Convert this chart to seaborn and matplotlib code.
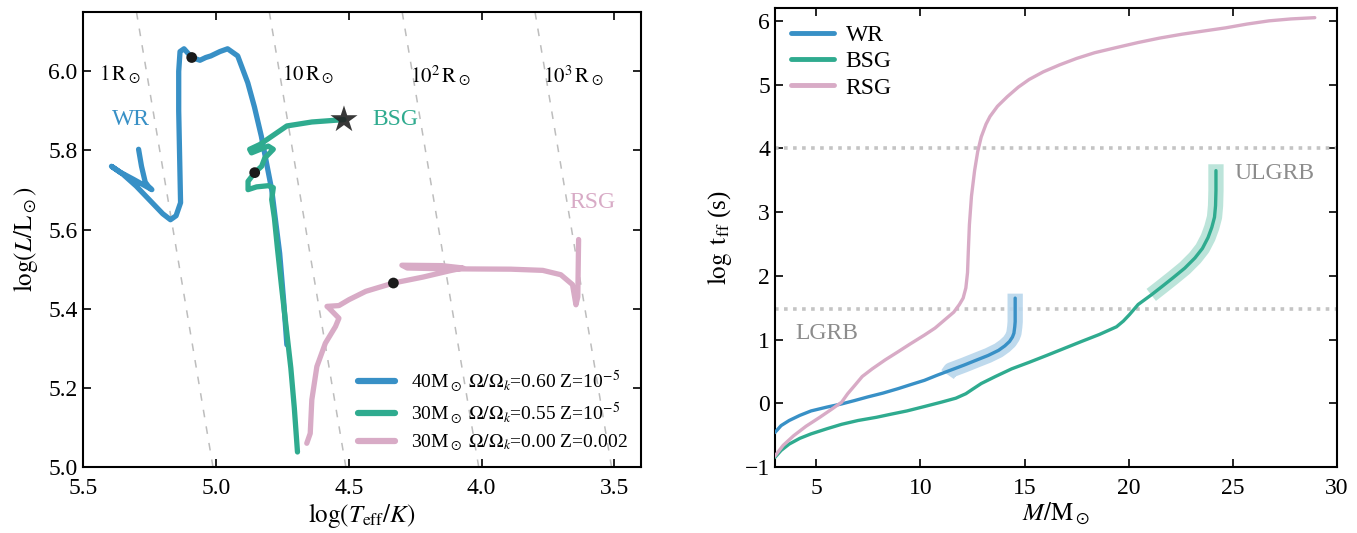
import numpy as np
import pandas as pd
import matplotlib
matplotlib.use("Agg")
import matplotlib.pyplot as plt
import seaborn as sns

# ---------------- data: HR diagram ----------------
wr_logT = [4.733, 4.745, 4.760, 4.775, 4.790, 4.810, 4.829, 4.855, 4.880, 4.918, 4.956, 4.985,
           5.019, 5.038, 5.060, 5.091, 5.120, 5.135, 5.140, 5.140, 5.137, 5.133, 5.150, 5.171,
           5.200, 5.250, 5.300, 5.350, 5.393, 5.360, 5.310, 5.270, 5.241, 5.255, 5.266, 5.280, 5.291]
wr_logL = [5.309, 5.420, 5.540, 5.620, 5.701, 5.770, 5.836, 5.910, 5.971, 6.039, 6.057, 6.050,
           6.039, 6.035, 6.028, 6.035, 6.057, 6.050, 6.000, 5.900, 5.800, 5.668, 5.635, 5.625,
           5.640, 5.675, 5.710, 5.740, 5.760, 5.745, 5.727, 5.712, 5.701, 5.710, 5.720, 5.760, 5.803]

bsg_logT = [4.693, 4.705, 4.718, 4.735, 4.752, 4.768, 4.780, 4.790, 4.784, 4.803, 4.847, 4.879,
            4.879, 4.854, 4.828, 4.816, 4.784, 4.803, 4.866, 4.873, 4.835, 4.733, 4.639, 4.518]
bsg_logL = [5.038, 5.150, 5.250, 5.350, 5.450, 5.550, 5.630, 5.676, 5.706, 5.711, 5.708, 5.701,
            5.722, 5.744, 5.760, 5.781, 5.803, 5.811, 5.794, 5.803, 5.815, 5.862, 5.872, 5.878]

rsg_logT = [4.658, 4.645, 4.639, 4.620, 4.588, 4.550, 4.537, 4.575, 4.582, 4.537, 4.499, 4.436,
            4.332, 4.221, 4.120, 4.070, 4.150, 4.300, 4.280, 4.150, 3.890, 3.770, 3.702, 3.658,
            3.645, 3.638, 3.635]
rsg_logL = [5.060, 5.085, 5.170, 5.254, 5.313, 5.355, 5.376, 5.402, 5.406, 5.408, 5.423, 5.444,
            5.465, 5.480, 5.496, 5.503, 5.509, 5.510, 5.503, 5.501, 5.500, 5.497, 5.486, 5.461,
            5.410, 5.430, 5.575]

dot_logT = [5.091, 4.854, 4.332]
dot_logL = [6.035, 5.744, 5.465]
star_logT = [4.518]
star_logL = [5.878]

# constant-radius lines: logT at logL=5.0 and logL=6.15
radius_labels = [r'$1\,\mathrm{R}_\odot$', r'$10\,\mathrm{R}_\odot$',
                 r'$10^2\,\mathrm{R}_\odot$', r'$10^3\,\mathrm{R}_\odot$']
radius_logT_bottom = [5.011, 4.511, 4.011, 3.511]
radius_logT_top = [5.299, 4.799, 4.299, 3.799]
radius_label_x = [5.44, 4.75, 4.27, 3.77]

legend_labels = [r'40M$_\odot$ $\Omega/\Omega_k$=0.60 Z=10$^{-5}$',
                 r'30M$_\odot$ $\Omega/\Omega_k$=0.55 Z=10$^{-5}$',
                 r'30M$_\odot$ $\Omega/\Omega_k$=0.00 Z=0.002']

# ---------------- data: free-fall time ----------------
rsg_M = [3.0, 3.4, 3.90, 4.5, 5.16, 5.7, 6.21, 6.5, 6.84, 7.2, 7.68, 8.3, 8.93, 9.5, 10.19,
         10.7, 11.24, 11.6, 11.87, 12.05, 12.18, 12.26, 12.30, 12.35, 12.45, 12.60, 12.75,
         12.92, 13.15, 13.34, 13.7, 14.17, 14.7, 15.22, 15.9, 16.69, 17.5, 18.37, 19.4, 20.46,
         21.5, 22.56, 23.6, 24.66, 25.7, 26.75, 27.8, 28.95]
rsg_t = [-0.83, -0.66, -0.51, -0.36, -0.22, -0.10, 0.017, 0.15, 0.28, 0.42, 0.54, 0.68, 0.81,
         0.93, 1.07, 1.18, 1.33, 1.43, 1.55, 1.65, 1.81, 2.05, 2.40, 2.80, 3.25, 3.65, 3.95,
         4.18, 4.38, 4.50, 4.66, 4.81, 4.96, 5.08, 5.20, 5.31, 5.41, 5.50, 5.58, 5.66, 5.73,
         5.79, 5.84, 5.89, 5.95, 6.00, 6.03, 6.05]

wr_M = [3.0, 3.3, 3.69, 4.2, 4.74, 5.5, 6.21, 6.8, 7.47, 8.2, 8.93, 9.6, 10.19, 10.8, 11.45,
        12.1, 12.71, 13.25, 13.75, 14.05, 14.28, 14.42, 14.49, 14.53, 14.55, 14.55]
wr_t = [-0.46, -0.35, -0.27, -0.19, -0.12, -0.06, -0.01, 0.04, 0.10, 0.16, 0.23, 0.30, 0.36,
        0.44, 0.52, 0.60, 0.68, 0.75, 0.83, 0.90, 0.97, 1.04, 1.10, 1.20, 1.28, 1.65]

bsg_M = [3.0, 3.3, 3.69, 4.2, 4.74, 5.5, 6.21, 7.0, 7.88, 8.6, 9.35, 10.2, 11.03, 11.7, 12.18,
         12.5, 12.92, 13.6, 14.38, 15.2, 16.06, 16.9, 17.74, 18.6, 19.42, 19.75, 20.04, 20.46,
         21.09, 21.6, 22.14, 22.7, 23.19, 23.55, 23.82, 24.0, 24.13, 24.18, 24.20, 24.20]
bsg_t = [-0.85, -0.74, -0.64, -0.55, -0.48, -0.40, -0.33, -0.27, -0.22, -0.17, -0.12, -0.05,
         0.02, 0.08, 0.15, 0.22, 0.31, 0.42, 0.54, 0.64, 0.75, 0.86, 0.97, 1.08, 1.20, 1.29,
         1.39, 1.55, 1.70, 1.83, 1.97, 2.12, 2.28, 2.43, 2.60, 2.76, 2.92, 3.10, 3.34, 3.65]

wr_hl_M = [11.30, 11.45, 12.1, 12.71, 13.25, 13.75, 14.05, 14.28, 14.42, 14.49, 14.53, 14.55, 14.55]
wr_hl_t = [0.45, 0.52, 0.60, 0.68, 0.75, 0.83, 0.90, 0.97, 1.04, 1.10, 1.20, 1.28, 1.72]
bsg_hl_M = [21.09, 21.6, 22.14, 22.7, 23.19, 23.55, 23.82, 24.0, 24.13, 24.18, 24.20, 24.20]
bsg_hl_t = [1.70, 1.83, 1.97, 2.12, 2.28, 2.43, 2.60, 2.76, 2.92, 3.10, 3.34, 3.75]

grb_levels = [4.0, 1.48]
names = ['WR', 'BSG', 'RSG']

c_wr = '#3890c6'
c_bsg = '#2fab8f'
c_rsg = '#d8abc6'
c_wr_hl = '#b8d6ec'
c_bsg_hl = '#b5e2d6'

# ---------------- style ----------------
sns.set_style("ticks")
plt.rcParams['font.family'] = ['Liberation Serif', 'DejaVu Serif']
plt.rcParams['mathtext.fontset'] = 'stix'
plt.rcParams['xtick.direction'] = 'in'
plt.rcParams['ytick.direction'] = 'in'
plt.rcParams['xtick.top'] = True
plt.rcParams['ytick.right'] = True
plt.rcParams['xtick.major.size'] = 6
plt.rcParams['ytick.major.size'] = 6
plt.rcParams['axes.linewidth'] = 1.5
plt.rcParams['xtick.major.width'] = 1.2
plt.rcParams['ytick.major.width'] = 1.2
for k in ['axes.edgecolor', 'xtick.color', 'ytick.color', 'text.color', 'axes.labelcolor']:
    plt.rcParams[k] = 'black'

fig = plt.figure(figsize=(13.57, 5.33), dpi=100)
ax1 = fig.add_axes([0.0612, 0.1238, 0.4112, 0.8537])
ax2 = fig.add_axes([0.571, 0.1238, 0.414, 0.861])

# ---- left: HR diagram ----
for lb, lt, lab, lx in zip(radius_logT_bottom, radius_logT_top, radius_labels, radius_label_x):
    ax1.plot([lb, lt], [5.0, 6.15], ls=(0, (5, 6)), color='#bdbdbd', lw=1.1, zorder=1)
    ax1.text(lx, 5.99, lab, fontsize=15, ha='left', va='center', zorder=2)

tracks = [(wr_logT, wr_logL, c_wr), (bsg_logT, bsg_logL, c_bsg), (rsg_logT, rsg_logL, c_rsg)]
for (tx, ty, col), lab in zip(tracks, legend_labels):
    df = pd.DataFrame({'logT': tx, 'logL': ty})
    sns.lineplot(data=df, x='logT', y='logL', sort=False, estimator=None, ax=ax1,
                 color=col, lw=3.8, label=lab, zorder=3,
                 solid_capstyle='round', solid_joinstyle='round')

sns.scatterplot(x=dot_logT, y=dot_logL, ax=ax1, color='#1a1a1a', s=60, zorder=5,
                edgecolor='none', legend=False)
sns.scatterplot(x=star_logT, y=star_logL, ax=ax1, color='#222222', marker='*', s=420,
                zorder=6, edgecolor='none', alpha=0.9, legend=False)

ax1.text(5.39, 5.878, 'WR', color=c_wr, fontsize=17, va='center', ha='left')
ax1.text(4.41, 5.878, 'BSG', color=c_bsg, fontsize=17, va='center', ha='left')
ax1.text(3.67, 5.669, 'RSG', color=c_rsg, fontsize=17, va='center', ha='left')

ax1.set_xlim(5.5, 3.4)
ax1.set_ylim(5.0, 6.15)
ax1.set_xticks([5.5, 5.0, 4.5, 4.0, 3.5])
ax1.set_yticks([5.0, 5.2, 5.4, 5.6, 5.8, 6.0])
ax1.xaxis.set_major_formatter(matplotlib.ticker.FormatStrFormatter('%.1f'))
ax1.yaxis.set_major_formatter(matplotlib.ticker.FormatStrFormatter('%.1f'))
ax1.tick_params(labelsize=17)
ax1.tick_params(axis='x', pad=8)
ax1.tick_params(axis='y', pad=4)
ax1.set_xlabel(r'$\log(T_{\rm eff}/K)$', fontsize=18, labelpad=1)
ax1.set_ylabel(r'$\log(L/\mathrm{L}_\odot)$', fontsize=18, labelpad=6)
leg1 = ax1.legend(loc='lower right', frameon=False, fontsize=14, handlelength=1.9,
                  borderaxespad=0.3, labelspacing=0.35)
for h in leg1.get_lines():
    h.set_linewidth(4.5)

# ---- right: free-fall time ----
for lvl in grb_levels:
    ax2.axhline(lvl, color='#c4c4c4', ls=(0, (1, 1.5)), lw=2.6, zorder=1)

hl = [(wr_hl_M, wr_hl_t, c_wr_hl), (bsg_hl_M, bsg_hl_t, c_bsg_hl)]
for hx, hy, col in hl:
    sns.lineplot(x=hx, y=hy, sort=False, estimator=None, ax=ax2, color=col, lw=11,
                 alpha=0.9, zorder=2, legend=False, solid_capstyle='butt')

curves = [(wr_M, wr_t, c_wr), (bsg_M, bsg_t, c_bsg), (rsg_M, rsg_t, c_rsg)]
for (cx, cy, col), nm in zip(curves, names):
    df = pd.DataFrame({'M': cx, 't': cy})
    sns.lineplot(data=df, x='M', y='t', sort=False, estimator=None, ax=ax2, color=col,
                 lw=2.4, label=nm, zorder=3)

ax2.text(25.1, 3.60, 'ULGRB', color='#8c8c8c', fontsize=17, va='center', ha='left')
ax2.text(4.0, 1.10, 'LGRB', color='#8c8c8c', fontsize=17, va='center', ha='left')

ax2.set_xlim(3, 30)
ax2.set_ylim(-1, 6.2)
ax2.set_xticks([5, 10, 15, 20, 25, 30])
ax2.set_yticks([-1, 0, 1, 2, 3, 4, 5, 6])
ax2.tick_params(labelsize=17)
ax2.tick_params(axis='x', pad=8)
ax2.set_xlabel(r'$M/\mathrm{M}_\odot$', fontsize=18, labelpad=1)
ax2.set_ylabel(r'$\log\ \mathrm{t_{ff}}$ (s)', fontsize=18, labelpad=8)
leg2 = ax2.legend(loc='upper left', frameon=False, fontsize=17, handlelength=1.8,
                  handletextpad=0.5, borderaxespad=0.3, labelspacing=0.2)
for h in leg2.get_lines():
    h.set_linewidth(3.5)

fig.savefig('out.png', dpi=100)
